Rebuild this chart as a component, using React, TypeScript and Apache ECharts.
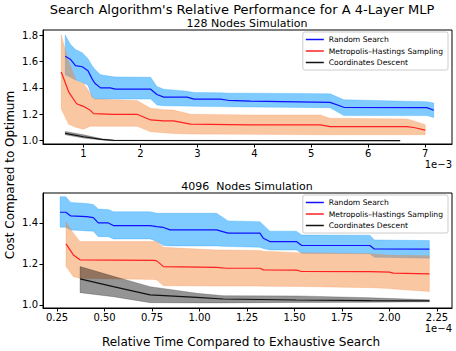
import React, { useEffect, useRef } from "react";
import * as echarts from "echarts";

// ---------- Top plot: 128 nodes (x in units of 1e-3) ----------
const topXTicks = [1, 2, 3, 4, 5, 6, 7];
const topYTicks = [1.0, 1.2, 1.4, 1.6, 1.8];

const rsTopX = [0.68, 0.77, 0.86, 0.98, 1.08, 1.15, 1.2, 1.3, 1.47, 1.56, 2.18, 2.29, 2.41, 2.82, 2.94, 3.4, 3.54, 3.93, 5.33, 5.57, 7.03, 7.15];
const rsTopMean = [1.64, 1.617, 1.568, 1.56, 1.53, 1.47, 1.435, 1.4, 1.4, 1.39, 1.39, 1.35, 1.33, 1.33, 1.315, 1.315, 1.306, 1.3, 1.29, 1.253, 1.25, 1.23];
const rsTopHi = [1.8, 1.73, 1.69, 1.665, 1.62, 1.57, 1.54, 1.5, 1.487, 1.483, 1.48, 1.41, 1.39, 1.375, 1.365, 1.363, 1.36, 1.36, 1.355, 1.31, 1.295, 1.285];
const rsTopLo = [1.5, 1.48, 1.46, 1.44, 1.42, 1.33, 1.315, 1.315, 1.315, 1.315, 1.315, 1.27, 1.265, 1.262, 1.26, 1.258, 1.257, 1.255, 1.25, 1.19, 1.19, 1.175];

const mhTopX = [0.61, 0.74, 0.88, 1.0, 1.12, 1.18, 1.53, 1.94, 2.18, 2.41, 2.58, 2.88, 3.93, 5.16, 5.33, 6.68, 6.8, 7.0];
const mhTopMean = [1.52, 1.37, 1.28, 1.26, 1.23, 1.205, 1.2, 1.2, 1.157, 1.15, 1.15, 1.125, 1.12, 1.12, 1.106, 1.106, 1.1, 1.08];
const mhTopHi = [1.8, 1.6, 1.45, 1.435, 1.36, 1.315, 1.31, 1.305, 1.245, 1.235, 1.232, 1.2, 1.195, 1.195, 1.17, 1.165, 1.15, 1.12];
const mhTopLo = [1.24, 1.124, 1.1, 1.086, 1.11, 1.11, 1.11, 1.11, 1.068, 1.06, 1.055, 1.05, 1.048, 1.045, 1.045, 1.045, 1.045, 1.045];

const cdTopX = [0.68, 1.0, 1.32, 1.53, 6.56];
const cdTopMean = [1.056, 1.03, 1.01, 1.003, 1.0];
const cdTopHi = [1.07, 1.045, 1.015, 1.004, 1.0];
const cdTopLo = [1.045, 1.02, 1.005, 1.0, 1.0];

// ---------- Bottom plot: 4096 nodes (x in units of 1e-4) ----------
const botXTicks = [0.25, 0.5, 0.75, 1.0, 1.25, 1.5, 1.75, 2.0, 2.25];
const botYTicks = [1.0, 1.2, 1.4];

const rsBotX = [0.266, 0.296, 0.322, 0.406, 0.441, 0.467, 0.52, 0.546, 0.74, 0.775, 0.81, 0.845, 1.09, 1.15, 1.318, 1.336, 1.37, 1.51, 1.538, 1.897, 1.92, 2.21];
const rsBotMean = [1.452, 1.452, 1.434, 1.431, 1.426, 1.4, 1.4, 1.387, 1.387, 1.382, 1.378, 1.366, 1.366, 1.35, 1.35, 1.325, 1.309, 1.309, 1.29, 1.29, 1.273, 1.272];
const rsBotHi = [1.528, 1.528, 1.5, 1.495, 1.49, 1.468, 1.465, 1.455, 1.455, 1.447, 1.447, 1.447, 1.447, 1.41, 1.406, 1.39, 1.36, 1.36, 1.341, 1.34, 1.317, 1.314];
const rsBotLo = [1.379, 1.379, 1.366, 1.361, 1.36, 1.333, 1.333, 1.322, 1.322, 1.31, 1.29, 1.288, 1.288, 1.285, 1.281, 1.275, 1.268, 1.268, 1.252, 1.25, 1.233, 1.228];

const mhBotX = [0.297, 0.336, 0.371, 0.76, 0.775, 0.81, 1.09, 1.14, 1.318, 1.336, 1.51, 1.538, 1.9, 2.0, 2.02, 2.21];
const mhBotMean = [1.298, 1.244, 1.22, 1.217, 1.215, 1.187, 1.183, 1.179, 1.179, 1.171, 1.17, 1.163, 1.162, 1.16, 1.155, 1.151];
const mhBotHi = [1.406, 1.35, 1.309, 1.309, 1.309, 1.281, 1.268, 1.268, 1.265, 1.262, 1.255, 1.254, 1.25, 1.242, 1.242, 1.24];
const mhBotLo = [1.187, 1.138, 1.13, 1.124, 1.122, 1.094, 1.092, 1.092, 1.092, 1.091, 1.09, 1.09, 1.084, 1.08, 1.078, 1.065];

const cdBotX = [0.371, 0.546, 0.74, 0.985, 1.125, 1.51, 1.9, 2.21];
const cdBotMean = [1.127, 1.089, 1.049, 1.037, 1.029, 1.024, 1.021, 1.02];
const cdBotHi = [1.187, 1.14, 1.089, 1.057, 1.045, 1.044, 1.035, 1.025];
const cdBotLo = [1.06, 1.04, 1.011, 1.01, 1.01, 1.012, 1.013, 1.015];

const names = ["Random Search", "Metropolis–Hastings Sampling", "Coordinates Descent"];

const FONT = "DejaVu Sans";
const BLUE = "#1010ff";
const RED = "#ff2020";
const BLACK = "#111111";
const BLUE_FILL = "rgba(0,150,255,0.5)";
const ORANGE_FILL = "rgba(245,130,50,0.45)";
const GRAY_FILL = "rgba(0,0,0,0.42)";

function band(xs: number[], lo: number[], hi: number[], fill: string, idx: number, z: number) {
  return {
    type: "custom",
    xAxisIndex: idx,
    yAxisIndex: idx,
    silent: true,
    z,
    data: [[xs[0], lo[0]]],
    renderItem: (params: any, api: any) => {
      if (params.dataIndex !== 0) return null;
      const pts: number[][] = [];
      for (let i = 0; i < xs.length; i++) pts.push(api.coord([xs[i], hi[i]]));
      for (let i = xs.length - 1; i >= 0; i--) pts.push(api.coord([xs[i], lo[i]]));
      return { type: "polygon", shape: { points: pts }, style: { fill, stroke: fill, lineWidth: 0.5 } };
    },
  };
}

function line(name: string, xs: number[], ys: number[], color: string, idx: number, z: number) {
  return {
    type: "line",
    name,
    xAxisIndex: idx,
    yAxisIndex: idx,
    data: xs.map((x, i) => [x, ys[i]]),
    showSymbol: false,
    symbol: "none",
    z,
    lineStyle: { color, width: 1.2 },
    itemStyle: { color },
  };
}

function xAxis(idx: number, min: number, max: number, ticks: number[], dec: number) {
  return {
    gridIndex: idx,
    type: "value",
    min,
    max,
    axisLine: { show: true, onZero: false, lineStyle: { color: "#000", width: 1 } },
    axisTick: { show: true, customValues: ticks, length: 3.5, lineStyle: { color: "#000" } },
    axisLabel: {
      customValues: ticks,
      formatter: (v: number) => (dec === 0 ? String(Math.round(v)) : v.toFixed(dec)),
      fontSize: 10,
      fontFamily: FONT,
      color: "#000",
      margin: 4,
    },
    splitLine: { show: false },
  };
}

function yAxis(idx: number, min: number, max: number, ticks: number[]) {
  return {
    gridIndex: idx,
    type: "value",
    min,
    max,
    axisLine: { show: true, onZero: false, lineStyle: { color: "#000", width: 1 } },
    axisTick: { show: true, customValues: ticks, length: 3.5, lineStyle: { color: "#000" } },
    axisLabel: {
      customValues: ticks,
      formatter: (v: number) => v.toFixed(1),
      fontSize: 10,
      fontFamily: FONT,
      color: "#000",
      margin: 5,
    },
    splitLine: { show: false },
  };
}

function legend(top: number) {
  return {
    top,
    right: 8,
    orient: "vertical",
    padding: [3, 5, 3, 3],
    itemWidth: 18,
    itemHeight: 1.5,
    itemGap: 2.5,
    icon: "rect",
    borderColor: "#cccccc",
    borderWidth: 1,
    borderRadius: 2,
    backgroundColor: "rgba(255,255,255,0.85)",
    textStyle: { fontSize: 7.6, fontFamily: FONT, color: "#000", lineHeight: 9 },
    data: [
      { name: names[0], itemStyle: { color: BLUE } },
      { name: names[1], itemStyle: { color: RED } },
      { name: names[2], itemStyle: { color: BLACK } },
    ],
    selectedMode: false,
  };
}

function label(text: string, x: number, y: number, size: number, align: string, rotation = 0) {
  return {
    type: "text",
    x,
    y,
    rotation,
    style: { text, fontSize: size, fontFamily: FONT, fill: "#000", textAlign: align, textVerticalAlign: "middle" },
  };
}

export default function App() {
  const ref = useRef<HTMLDivElement>(null);
  useEffect(() => {
    if (!ref.current) return;
    const chart = echarts.init(ref.current, null, { renderer: "svg" });
    chart.setOption({
      animation: false,
      backgroundColor: "#fff",
      textStyle: { fontFamily: FONT },
      grid: [
        { left: 43, top: 30, width: 409, height: 114, show: true, borderColor: "#000", borderWidth: 1, backgroundColor: "transparent" },
        { left: 43, top: 193, width: 409, height: 115, show: true, borderColor: "#000", borderWidth: 1, backgroundColor: "transparent" },
      ],
      xAxis: [xAxis(0, 0.29, 7.47, topXTicks, 0), xAxis(1, 0.176, 2.329, botXTicks, 2)],
      yAxis: [yAxis(0, 0.975, 1.838, topYTicks), yAxis(1, 0.985, 1.546, botYTicks)],
      legend: [legend(32), legend(195)],
      series: [
        band(rsTopX, rsTopLo, rsTopHi, BLUE_FILL, 0, 1),
        line(names[0], rsTopX, rsTopMean, BLUE, 0, 5),
        band(mhTopX, mhTopLo, mhTopHi, ORANGE_FILL, 0, 2),
        line(names[1], mhTopX, mhTopMean, RED, 0, 6),
        band(cdTopX, cdTopLo, cdTopHi, GRAY_FILL, 0, 3),
        line(names[2], cdTopX, cdTopMean, BLACK, 0, 7),
        band(rsBotX, rsBotLo, rsBotHi, BLUE_FILL, 1, 1),
        line(names[0], rsBotX, rsBotMean, BLUE, 1, 5),
        band(mhBotX, mhBotLo, mhBotHi, ORANGE_FILL, 1, 2),
        line(names[1], mhBotX, mhBotMean, RED, 1, 6),
        band(cdBotX, cdBotLo, cdBotHi, GRAY_FILL, 1, 3),
        line(names[2], cdBotX, cdBotMean, BLACK, 1, 7),
      ],
      graphic: [
        label("Search Algorithm's Relative Performance for A 4-Layer MLP", 242, 9, 13, "center"),
        label("128 Nodes Simulation", 247, 23, 11, "center"),
        label("4096  Nodes Simulation", 247, 186, 11, "center"),
        label("1e−3", 452, 164, 10, "right"),
        label("1e−4", 452, 328, 10, "right"),
        label("Relative Time Compared to Exhaustive Search", 241, 342, 12, "center"),
        label("Cost Compared to Optimum", 10, 175, 12, "center", Math.PI / 2),
      ],
    });
    return () => chart.dispose();
  }, []);
  return <div ref={ref} style={{ position: "fixed", left: 0, top: 0, width: 456, height: 351 }} />;
}
